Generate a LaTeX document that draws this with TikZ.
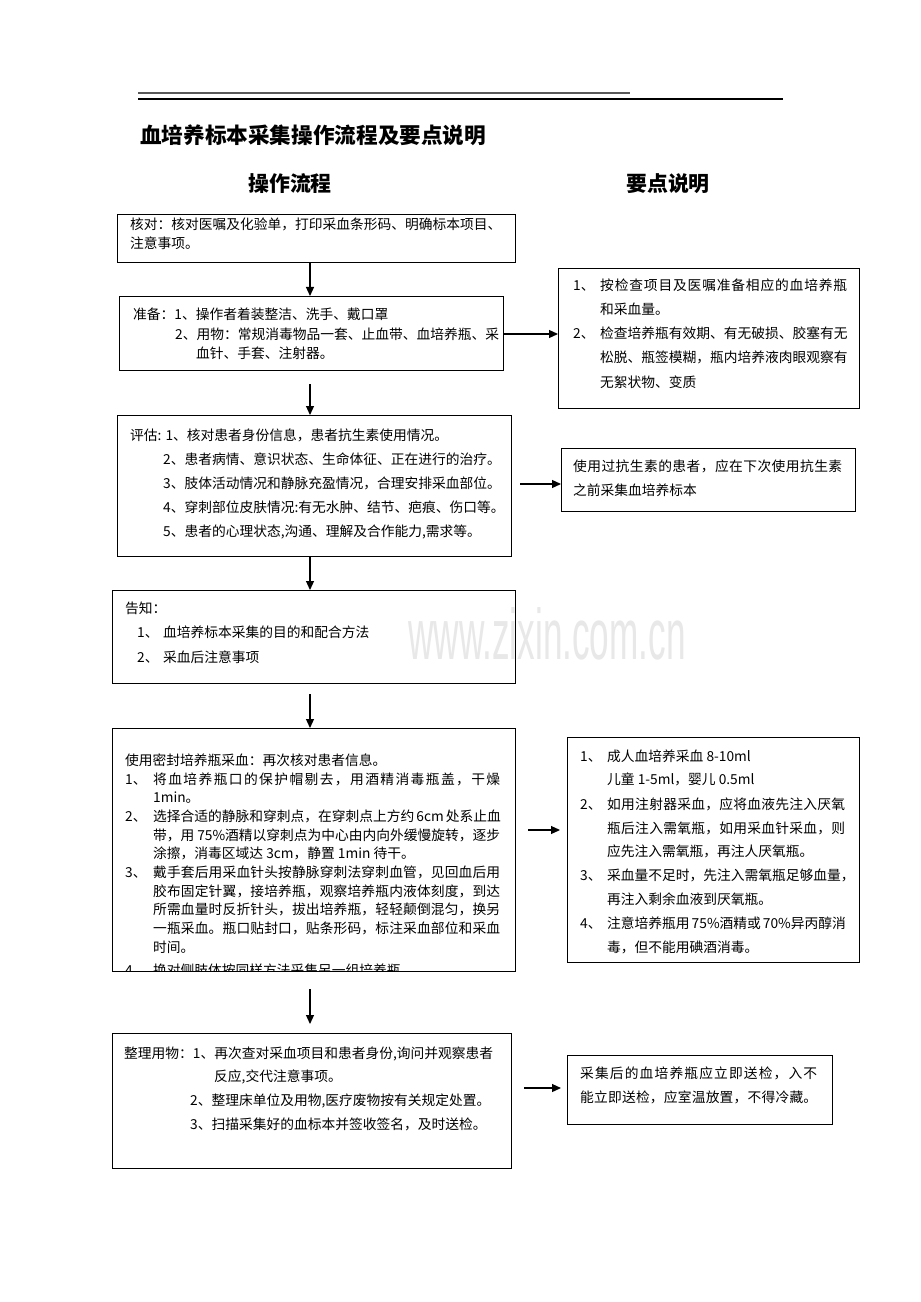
\documentclass[tikz,border=0pt]{standalone}
\usepackage{fontspec}
\setmainfont{Noto Sans CJK SC}
\newfontfamily\wmfont{Liberation Sans}
\usetikzlibrary{arrows.meta}
\newcounter{tlc}
\newcommand\T[3][]{\stepcounter{tlc}\node[txt,#1] (t\arabic{tlc}) at (#2) {#3};}
\ExplSyntaxOn
\NewDocumentCommand\J{mm}{\makebox[#1bp][s]{\tl_map_inline:nn{#2}{##1\hfil}\unskip}}
\ExplSyntaxOff
\begin{document}
\begin{tikzpicture}[x=1bp,y=-1bp,
  txt/.style={anchor=west,inner sep=0pt,text height=11bp,text depth=2bp,font=\fontsize{13.8}{16}\selectfont},
  box/.style={draw,line width=1.2bp,anchor=north west,inner sep=0pt},
  arr/.style={line width=1.2bp,-{Triangle[length=9bp,width=8bp]}},
  head/.style={inner sep=0pt,font=\fontsize{21}{24}\selectfont\bfseries}]
\fill[white] (0,0) rectangle (920,1302);
\useasboundingbox (0,0) rectangle (920,1302);
% watermark
\node[inner sep=0pt,text=gray!18,font=\wmfont\fontsize{72}{72}\selectfont,xscale=0.49] (wm) at (547,634) {www.zixin.com.cn};
% top rules
\draw[gray!70!black,line width=1.6bp] (138,93) -- (630,93);
\draw[line width=1.2bp] (138,99) -- (783,99);
% titles
\node[head,anchor=west,font=\fontsize{21.7}{24}\selectfont\bfseries] (title) at (140,135) {血培养标本采集操作流程及要点说明};
\node[head] (h1) at (290,184) {操作流程};
\node[head] (h2) at (668,184) {要点说明};
\coordinate (cx) at (310,0);
% boxes
\node[box,minimum width=398bp,minimum height=48bp] (b1) at (117,214) {};
\node[box,minimum width=384bp,minimum height=74bp] (b2) at (119,296) {};
\node[box,minimum width=301bp,minimum height=140bp] (r1) at (558,268) {};
\node[box,minimum width=394bp,minimum height=141bp] (b3) at (117,415) {};
\node[box,minimum width=294bp,minimum height=63bp] (r2) at (561,448) {};
\node[box,minimum width=403bp,minimum height=93bp] (b4) at (112,590) {};
\node[box,minimum width=403bp,minimum height=243bp] (b5) at (112,728) {};
\node[box,minimum width=292bp,minimum height=225bp] (r3) at (567,737) {};
\node[box,minimum width=399bp,minimum height=135bp] (b6) at (112,1033) {};
\node[box,minimum width=265bp,minimum height=69bp] (r4) at (567,1055) {};
% vertical arrows
\draw[arr] (b1.south -| cx) -- (b2.north -| cx);
\draw[arr,shorten <=13bp] (b2.south -| cx) -- (b3.north -| cx);
\draw[arr] (b3.south -| cx) -- (b4.north -| cx);
\draw[arr,shorten <=10bp] (b4.south -| cx) -- (b5.north -| cx);
\draw[arr,shorten <=17bp,shorten >=9bp] (b5.south -| cx) -- (b6.north -| cx);
% horizontal arrows
\coordinate (y1) at (0,334);
\coordinate (y2) at (0,484);
\coordinate (y3) at (0,830);
\coordinate (y4) at (0,1088);
\draw[arr] (b2.east |- y1) -- (r1.west |- y1);
\draw[arr,shorten <=8bp] (b3.east |- y2) -- (r2.west |- y2);
\draw[arr,shorten <=12bp,shorten >=7bp] (b5.east |- y3) -- (r3.west |- y3);
\draw[arr,shorten <=12bp,shorten >=6bp] (b6.east |- y4) -- (r4.west |- y4);
% B1
\T{130,225}{核对：核对医嘱及化验单，打印采血条形码、明确标本项目、}
\T{130,244}{注意事项。}
% B2
\T{133,315}{准备：1、操作者着装整洁、洗手、戴口罩}
\T{175,335}{2、用物：常规消毒物品一套、止血带、血培养瓶、采}
\T{196,354}{血针、手套、注射器。}
% R1
\T{573,286}{1、}\T{600,286}{\J{247}{按检查项目及医嘱准备相应的血培养瓶}}
\T{600,310}{和采血量。}
\T{573,334}{2、}\T{600,334}{\J{247}{检查培养瓶有效期、有无破损、胶塞有无}}
\T{600,358}{\J{247}{松脱、瓶签模糊，瓶内培养液肉眼观察有}}
\T{600,383}{无絮状物、变质}
% B3
\T{130,436}{评估: 1、核对患者身份信息，患者抗生素使用情况。}
\T{163,460}{2、患者病情、意识状态、生命体征、正在进行的治疗。}
\T{163,484}{3、肢体活动情况和静脉充盈情况，合理安排采血部位。}
\T{163,508}{4、穿刺部位皮肤情况:有无水肿、结节、疤痕、伤口等。}
\T{163,532}{5、患者的心理状态,沟通、理解及合作能力,需求等。}
% R2
\T{573,467}{\J{269}{使用过抗生素的患者，应在下次使用抗生素}}
\T{573,491}{之前采集血培养标本}
% B4
\T{125,609}{告知：}
\T{137,633}{1、}\T{163,633}{血培养标本采集的目的和配合方法}
\T{137,658}{2、}\T{163,658}{采血后注意事项}
% B5
\T{125,761}{使用密封培养瓶采血：再次核对患者信息。}
\T{125,780}{1、}\T{153,780}{\J{347}{将血培养瓶口的保护帽剔去，用酒精消毒瓶盖，干燥}}
\T{153,798}{1min。}
\T{125,817}{2、}\T{153,817}{\J{347}{选择合适的静脉和穿刺点，在穿刺点上方约{~6cm~}处系止血}}
\T{153,836}{\J{347}{带，用{~75\%}酒精以穿刺点为中心由内向外缓慢旋转，逐步}}
\T{153,854}{涂擦，消毒区域达 3cm，静置 1min 待干。}
\T{125,873}{3、}\T{153,873}{\J{347}{戴手套后用采血针头按静脉穿刺法穿刺血管，见回血后用}}
\T{153,892}{\J{347}{胶布固定针翼，接培养瓶，观察培养瓶内液体刻度，到达}}
\T{153,910}{\J{347}{所需血量时反折针头，拔出培养瓶，轻轻颠倒混匀，换另}}
\T{153,929}{\J{347}{一瓶采血。瓶口贴封口，贴条形码，标注采血部位和采血}}
\T{153,948}{时间。}
\begin{scope}
\clip (112,728) rectangle (515,970);
\T{125,971}{4、}\T{153,971}{换对侧肢体按同样方法采集另一组培养瓶}
\end{scope}
% R3
\T{580,757}{1、}\T{607,757}{成人血培养采血 8-10ml}
\T{607,780}{儿童 1-5ml，婴儿 0.5ml}
\T{580,805}{2、}\T{607,805}{\J{238}{如用注射器采血，应将血液先注入厌氧}}
\T{607,829}{\J{238}{瓶后注入需氧瓶，如用采血针采血，则}}
\T{607,852}{应先注入需氧瓶，再注人厌氧瓶。}
\T{580,876}{3、}\T{607,876}{\J{238}{采血量不足时，先注入需氧瓶足够血量，}}
\T{607,900}{再注入剩余血液到厌氧瓶。}
\T{580,924}{4、}\T{607,924}{\J{238}{注意培养瓶用{~75\%}酒精或{~70\%}异丙醇消}}
\T{607,948}{毒，但不能用碘酒消毒。}
% B6
\T{124,1054}{整理用物：1、再次查对采血项目和患者身份,询问并观察患者}
\T{214,1077}{反应,交代注意事项。}
\T{190,1101}{2、整理床单位及用物,医疗废物按有关规定处置。}
\T{190,1125}{3、扫描采集好的血标本并签收签名，及时送检。}
% R4
\T{580,1074}{\J{237}{采集后的血培养瓶应立即送检，入不}}
\T{580,1098}{\J{237}{能立即送检，应室温放置，不得冷藏。}}
\end{tikzpicture}
\end{document}
